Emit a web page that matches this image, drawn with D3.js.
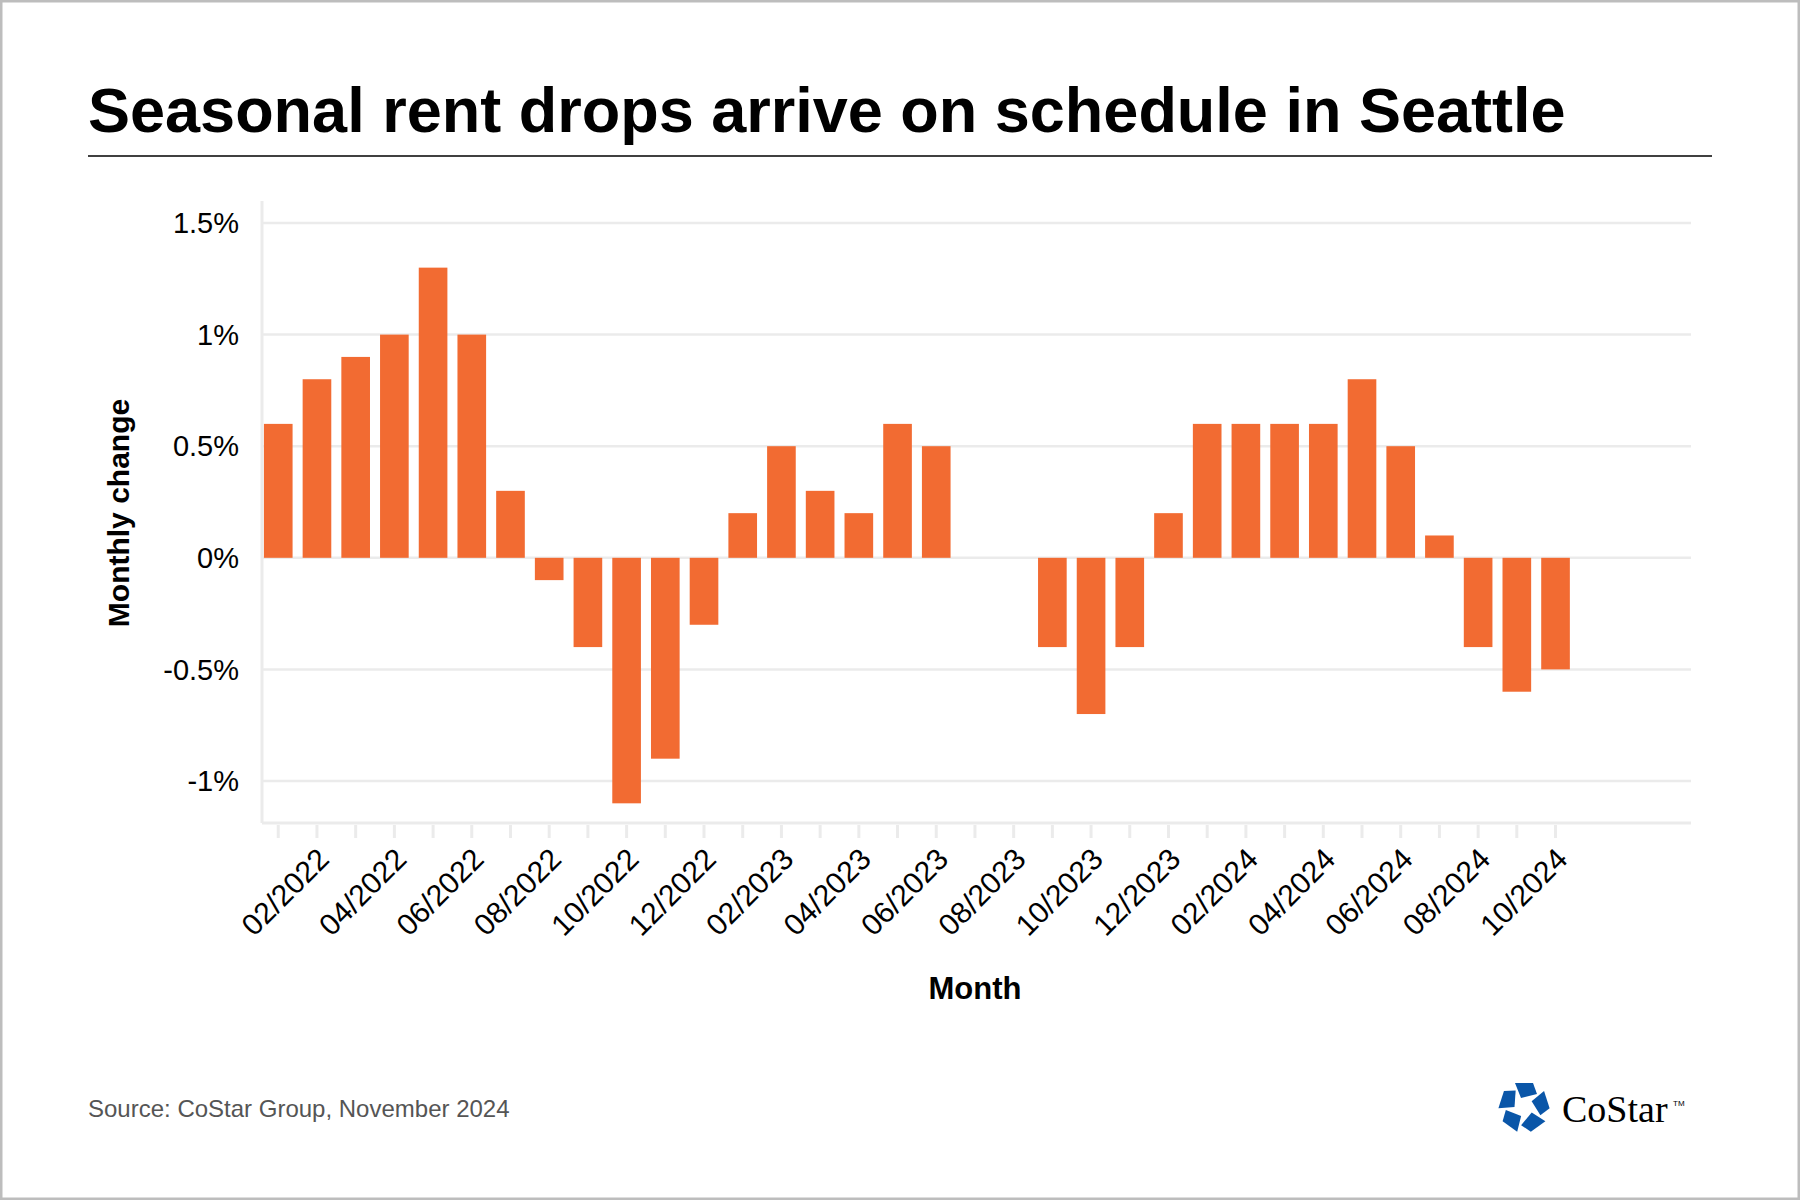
<!DOCTYPE html><html><head><meta charset="utf-8"><script src="https://cdn.jsdelivr.net/npm/d3@7"></script>
<style>body{margin:0;background:#fff}</style></head><body><svg id="c" width="1800" height="1200"></svg><script>
const months=["01/2022","02/2022","03/2022","04/2022","05/2022","06/2022","07/2022","08/2022","09/2022","10/2022","11/2022","12/2022","01/2023","02/2023","03/2023","04/2023","05/2023","06/2023","07/2023","08/2023","09/2023","10/2023","11/2023","12/2023","01/2024","02/2024","03/2024","04/2024","05/2024","06/2024","07/2024","08/2024","09/2024","10/2024"];
const values=[0.6,0.8,0.9,1.0,1.3,1.0,0.3,-0.1,-0.4,-1.1,-0.9,-0.3,0.2,0.5,0.3,0.2,0.6,0.5,null,null,-0.4,-0.7,-0.4,0.2,0.6,0.6,0.6,0.6,0.8,0.5,0.1,-0.4,-0.6,-0.5];
const yTicks=[-1,-0.5,0,0.5,1,1.5];
const svg=d3.select("#c");
svg.append("rect").attr("x",1).attr("y",1).attr("width",1798).attr("height",1198).attr("fill","#fff").attr("stroke","#bdbdbd").attr("stroke-width",3);
svg.append("text").attr("x",88).attr("y",132).attr("font-family","Liberation Sans, Arial").attr("font-weight","bold").attr("font-size",63).text("Seasonal rent drops arrive on schedule in Seattle");
svg.append("line").attr("x1",88).attr("x2",1712).attr("y1",156).attr("y2",156).attr("stroke","#000").attr("stroke-width",1.5);
const L=262,R=1691;
const x=d3.scaleLinear().domain([-0.42,36.5]).range([L,R]);
const y=d3.scaleLinear().domain([-1,1.5]).range([781,223]);
const bw=(x(1)-x(0))*0.74;
const g=svg.append("g");
g.selectAll(".gl").data(yTicks).join("line").attr("x1",L).attr("x2",R).attr("y1",d=>y(d)).attr("y2",d=>y(d)).attr("stroke","#ebebeb").attr("stroke-width",2.5);
g.append("line").attr("x1",L).attr("x2",L).attr("y1",201).attr("y2",823).attr("stroke","#ebebeb").attr("stroke-width",3);
g.append("line").attr("x1",L).attr("x2",R).attr("y1",823).attr("y2",823).attr("stroke","#ebebeb").attr("stroke-width",3);
g.selectAll(".yl").data(yTicks).join("text").attr("x",239).attr("y",d=>y(d)).attr("dy","0.35em").attr("text-anchor","end").attr("font-family","Liberation Sans, Arial").attr("font-size",29).text(d=>d+"%");
g.selectAll(".bar").data(values.map((v,i)=>({v,i})).filter(d=>d.v!==null)).join("rect")
 .attr("x",d=>x(d.i)-bw/2).attr("width",bw).attr("y",d=>y(Math.max(0,d.v))).attr("height",d=>Math.abs(y(d.v)-y(0))).attr("fill","#f26b32");
g.selectAll(".tk").data(months).join("line").attr("x1",(d,i)=>x(i)).attr("x2",(d,i)=>x(i)).attr("y1",825).attr("y2",838).attr("stroke","#ebebeb").attr("stroke-width",3);
g.selectAll(".xl").data(months.map((m,i)=>({m,i})).filter(d=>d.i%2==1)).join("text")
 .attr("transform",d=>`translate(${x(d.i)-1},${846}) rotate(-45)`).attr("text-anchor","end").attr("dy","0.7em")
 .attr("font-family","Liberation Sans, Arial").attr("font-size",30).text(d=>d.m);
svg.append("text").attr("x",975).attr("y",999).attr("text-anchor","middle").attr("font-family","Liberation Sans, Arial").attr("font-weight","bold").attr("font-size",31).text("Month");
svg.append("text").attr("transform","translate(129,513) rotate(-90)").attr("text-anchor","middle").attr("font-family","Liberation Sans, Arial").attr("font-weight","bold").attr("font-size",30).text("Monthly change");
svg.append("text").attr("x",88).attr("y",1117).attr("font-family","Liberation Sans, Arial").attr("font-size",24).attr("fill","#555").text("Source: CoStar Group, November 2024");
const lg=svg.append("g").attr("transform","translate(1524,1107)").attr("fill","#0a56a8");
for(let k=0;k<5;k++){lg.append("path").attr("d","M-9,-24 L9,-24 L13,-13 L-3,-9 Z").attr("transform",`rotate(${k*72})`);}
svg.append("text").attr("x",1562).attr("y",1122).attr("font-family","Liberation Serif, serif").attr("font-size",38).text("CoStar");
svg.append("text").attr("x",1673).attr("y",1106).attr("font-family","Liberation Sans").attr("font-size",8).text("TM");
</script></body></html>
